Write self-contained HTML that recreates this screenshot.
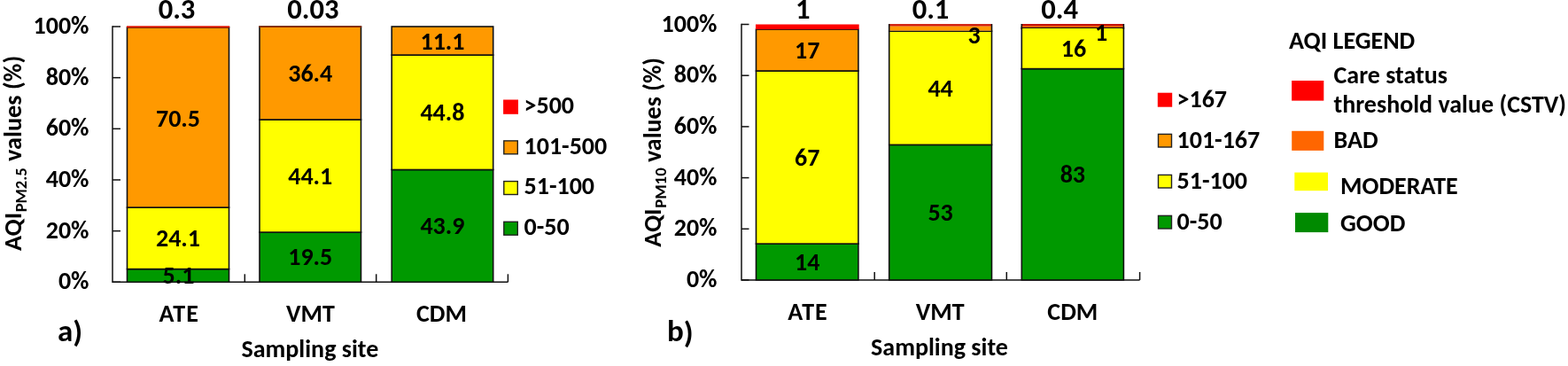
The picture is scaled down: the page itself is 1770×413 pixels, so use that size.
<!DOCTYPE html>
<html><head><meta charset="utf-8"><title>AQI chart</title>
<style>
html,body{margin:0;padding:0;background:#fff;}
body{width:1770px;height:413px;overflow:hidden;}
svg{display:block;}
svg text{font-family:Carlito, 'Liberation Sans', sans-serif;font-weight:bold;fill:#000;}
</style></head><body>
<svg width="1770" height="413" viewBox="0 0 1770 413">
<line x1="127.00" y1="29.30" x2="127.00" y2="319.00" stroke="#111" stroke-width="1.5"/>
<line x1="127.00" y1="30.00" x2="136.00" y2="30.00" stroke="#111" stroke-width="1.5"/>
<line x1="127.00" y1="87.66" x2="136.00" y2="87.66" stroke="#111" stroke-width="1.5"/>
<line x1="127.00" y1="145.32" x2="136.00" y2="145.32" stroke="#111" stroke-width="1.5"/>
<line x1="127.00" y1="202.98" x2="136.00" y2="202.98" stroke="#111" stroke-width="1.5"/>
<line x1="127.00" y1="260.64" x2="136.00" y2="260.64" stroke="#111" stroke-width="1.5"/>
<line x1="127.00" y1="318.30" x2="136.00" y2="318.30" stroke="#111" stroke-width="1.5"/>
<line x1="127.00" y1="318.30" x2="573.40" y2="318.30" stroke="#111" stroke-width="1.5"/>
<line x1="276.30" y1="309.30" x2="276.30" y2="318.30" stroke="#111" stroke-width="1.5"/>
<line x1="424.70" y1="309.30" x2="424.70" y2="318.30" stroke="#111" stroke-width="1.5"/>
<line x1="573.40" y1="309.30" x2="573.40" y2="318.30" stroke="#111" stroke-width="1.5"/>
<text x="100.50" y="38.00" font-size="28" text-anchor="end" textLength="63.00" lengthAdjust="spacingAndGlyphs">100%</text>
<text x="100.50" y="95.66" font-size="28" text-anchor="end" textLength="48.80" lengthAdjust="spacingAndGlyphs">80%</text>
<text x="100.50" y="153.32" font-size="28" text-anchor="end" textLength="48.80" lengthAdjust="spacingAndGlyphs">60%</text>
<text x="100.50" y="210.98" font-size="28" text-anchor="end" textLength="48.80" lengthAdjust="spacingAndGlyphs">40%</text>
<text x="100.50" y="268.64" font-size="28" text-anchor="end" textLength="48.80" lengthAdjust="spacingAndGlyphs">20%</text>
<text x="100.50" y="326.30" font-size="28" text-anchor="end" textLength="34.61" lengthAdjust="spacingAndGlyphs">0%</text>
<rect x="143.50" y="303.60" width="115.00" height="14.70" fill="#009900" stroke="#111" stroke-width="1.6"/>
<rect x="143.50" y="234.12" width="115.00" height="69.48" fill="#ffff00" stroke="#111" stroke-width="1.6"/>
<rect x="143.50" y="30.86" width="115.00" height="203.25" fill="#ff9900" stroke="#111" stroke-width="1.6"/>
<rect x="293.00" y="262.10" width="114.50" height="56.20" fill="#009900" stroke="#111" stroke-width="1.6"/>
<rect x="293.00" y="135.00" width="114.50" height="127.10" fill="#ffff00" stroke="#111" stroke-width="1.6"/>
<rect x="293.00" y="30.09" width="114.50" height="104.91" fill="#ff9900" stroke="#111" stroke-width="1.6"/>
<rect x="442.20" y="191.48" width="114.50" height="126.82" fill="#009900" stroke="#111" stroke-width="1.6"/>
<rect x="442.20" y="62.07" width="114.50" height="129.42" fill="#ffff00" stroke="#111" stroke-width="1.6"/>
<rect x="442.20" y="30.00" width="114.50" height="32.07" fill="#ff9900" stroke="#111" stroke-width="1.6"/>
<rect x="143.00" y="29.30" width="116.20" height="2.00" fill="#dc1200"/>
<rect x="292.40" y="29.40" width="115.80" height="1.50" fill="#9a2a00"/>
<text x="201.00" y="142.80" font-size="28" text-anchor="middle" textLength="50.06" lengthAdjust="spacingAndGlyphs">70.5</text>
<text x="201.00" y="278.10" font-size="28" text-anchor="middle" textLength="50.06" lengthAdjust="spacingAndGlyphs">24.1</text>
<text x="201.50" y="319.90" font-size="28" text-anchor="middle" textLength="35.88" lengthAdjust="spacingAndGlyphs">5.1</text>
<text x="350.25" y="91.65" font-size="28" text-anchor="middle" textLength="50.06" lengthAdjust="spacingAndGlyphs">36.4</text>
<text x="350.25" y="207.65" font-size="28" text-anchor="middle" textLength="50.06" lengthAdjust="spacingAndGlyphs">44.1</text>
<text x="350.25" y="299.20" font-size="28" text-anchor="middle" textLength="50.06" lengthAdjust="spacingAndGlyphs">19.5</text>
<text x="499.50" y="55.70" font-size="28" text-anchor="middle" textLength="50.06" lengthAdjust="spacingAndGlyphs">11.1</text>
<text x="499.45" y="136.10" font-size="28" text-anchor="middle" textLength="50.06" lengthAdjust="spacingAndGlyphs">44.8</text>
<text x="499.45" y="264.05" font-size="28" text-anchor="middle" textLength="50.06" lengthAdjust="spacingAndGlyphs">43.9</text>
<text x="199.50" y="20.50" font-size="32.6" text-anchor="middle" textLength="41.73" lengthAdjust="spacingAndGlyphs">0.3</text>
<text x="353.30" y="20.60" font-size="32.6" text-anchor="middle" textLength="58.25" lengthAdjust="spacingAndGlyphs">0.03</text>
<text x="202.30" y="362.60" font-size="28" text-anchor="middle" letter-spacing="1.1" textLength="45.61" lengthAdjust="spacingAndGlyphs">ATE</text>
<text x="350.40" y="362.80" font-size="28" text-anchor="middle" textLength="54.91" lengthAdjust="spacingAndGlyphs">VMT</text>
<text x="498.40" y="362.80" font-size="28" text-anchor="middle" textLength="56.95" lengthAdjust="spacingAndGlyphs">CDM</text>
<text x="349.90" y="402.80" font-size="28" text-anchor="middle" textLength="154.77" lengthAdjust="spacingAndGlyphs">Sampling site</text>
<text x="65.00" y="384.50" font-size="35" text-anchor="start" textLength="28.19" lengthAdjust="spacingAndGlyphs">a<tspan dy="1.8">)</tspan></text>
<rect x="568.10" y="112.50" width="16.90" height="16.30" fill="#ff0000"/>
<text x="591.50" y="127.80" font-size="28" text-anchor="start" textLength="56.53" lengthAdjust="spacingAndGlyphs">&gt;500</text>
<rect x="568.80" y="158.90" width="15.50" height="14.90" fill="#ff9900" stroke="#222" stroke-width="1.4"/>
<text x="591.50" y="173.50" font-size="28" text-anchor="start" textLength="93.73" lengthAdjust="spacingAndGlyphs">101-500</text>
<rect x="568.80" y="204.60" width="15.50" height="14.90" fill="#ffff00" stroke="#222" stroke-width="1.4"/>
<text x="591.50" y="219.20" font-size="28" text-anchor="start" textLength="79.53" lengthAdjust="spacingAndGlyphs">51-100</text>
<rect x="568.80" y="250.30" width="15.50" height="14.90" fill="#009900" stroke="#222" stroke-width="1.4"/>
<text x="591.50" y="264.90" font-size="28" text-anchor="start" textLength="51.16" lengthAdjust="spacingAndGlyphs">0-50</text>
<text transform="translate(23.6,283) rotate(-90)" font-size="28" textLength="43.27" lengthAdjust="spacingAndGlyphs">AQI</text>
<text transform="translate(30.4,239.3) rotate(-90)" font-size="18.6" textLength="49.97" lengthAdjust="spacingAndGlyphs">PM2.5</text>
<text transform="translate(23.6,182) rotate(-90)" font-size="28.3" textLength="119.28" lengthAdjust="spacingAndGlyphs">values (%)</text>
<line x1="837.00" y1="26.80" x2="837.00" y2="316.70" stroke="#111" stroke-width="1.5"/>
<line x1="837.00" y1="27.50" x2="845.50" y2="27.50" stroke="#111" stroke-width="1.5"/>
<line x1="837.00" y1="85.20" x2="845.50" y2="85.20" stroke="#111" stroke-width="1.5"/>
<line x1="837.00" y1="142.90" x2="845.50" y2="142.90" stroke="#111" stroke-width="1.5"/>
<line x1="837.00" y1="200.60" x2="845.50" y2="200.60" stroke="#111" stroke-width="1.5"/>
<line x1="837.00" y1="258.30" x2="845.50" y2="258.30" stroke="#111" stroke-width="1.5"/>
<line x1="837.00" y1="316.00" x2="845.50" y2="316.00" stroke="#111" stroke-width="1.5"/>
<line x1="837.00" y1="316.00" x2="1286.60" y2="316.00" stroke="#111" stroke-width="1.5"/>
<line x1="987.20" y1="307.00" x2="987.20" y2="316.00" stroke="#111" stroke-width="1.5"/>
<line x1="1136.30" y1="307.00" x2="1136.30" y2="316.00" stroke="#111" stroke-width="1.5"/>
<line x1="1286.60" y1="307.00" x2="1286.60" y2="316.00" stroke="#111" stroke-width="1.5"/>
<text x="809.50" y="35.50" font-size="28" text-anchor="end" textLength="63.00" lengthAdjust="spacingAndGlyphs">100%</text>
<text x="809.50" y="93.20" font-size="28" text-anchor="end" textLength="48.80" lengthAdjust="spacingAndGlyphs">80%</text>
<text x="809.50" y="150.90" font-size="28" text-anchor="end" textLength="48.80" lengthAdjust="spacingAndGlyphs">60%</text>
<text x="809.50" y="208.60" font-size="28" text-anchor="end" textLength="48.80" lengthAdjust="spacingAndGlyphs">40%</text>
<text x="809.50" y="266.30" font-size="28" text-anchor="end" textLength="48.80" lengthAdjust="spacingAndGlyphs">20%</text>
<text x="809.50" y="324.00" font-size="28" text-anchor="end" textLength="34.61" lengthAdjust="spacingAndGlyphs">0%</text>
<rect x="853.50" y="275.10" width="115.40" height="40.90" fill="#009900" stroke="#111" stroke-width="1.6"/>
<rect x="853.50" y="80.00" width="115.40" height="195.10" fill="#ffff00" stroke="#111" stroke-width="1.6"/>
<rect x="853.50" y="33.10" width="115.40" height="46.90" fill="#ff9900" stroke="#111" stroke-width="1.6"/>
<rect x="853.00" y="27.50" width="116.70" height="5.60" fill="#ff0000"/>
<text x="911.20" y="65.55" font-size="28" text-anchor="middle" textLength="28.39" lengthAdjust="spacingAndGlyphs">17</text>
<text x="911.20" y="186.55" font-size="28" text-anchor="middle" textLength="28.39" lengthAdjust="spacingAndGlyphs">67</text>
<text x="911.20" y="304.55" font-size="28" text-anchor="middle" textLength="28.39" lengthAdjust="spacingAndGlyphs">14</text>
<rect x="1003.70" y="163.40" width="115.80" height="152.60" fill="#009900" stroke="#111" stroke-width="1.6"/>
<rect x="1003.70" y="35.20" width="115.80" height="128.20" fill="#ffff00" stroke="#111" stroke-width="1.6"/>
<rect x="1003.70" y="29.40" width="115.80" height="5.20" fill="#ff9900"/>
<rect x="1003.40" y="27.10" width="116.40" height="2.40" fill="#d01a08"/>
<line x1="1003.70" y1="27.10" x2="1003.70" y2="36.00" stroke="#111" stroke-width="1.6"/>
<line x1="1119.50" y1="27.10" x2="1119.50" y2="36.00" stroke="#111" stroke-width="1.6"/>
<text x="1061.60" y="109.00" font-size="28" text-anchor="middle" textLength="28.39" lengthAdjust="spacingAndGlyphs">44</text>
<text x="1061.60" y="248.70" font-size="28" text-anchor="middle" textLength="28.39" lengthAdjust="spacingAndGlyphs">53</text>
<text x="1099.50" y="49.00" font-size="28" text-anchor="middle" textLength="14.20" lengthAdjust="spacingAndGlyphs">3</text>
<rect x="1153.30" y="77.60" width="115.10" height="238.40" fill="#009900" stroke="#111" stroke-width="1.6"/>
<rect x="1153.30" y="31.20" width="115.10" height="46.40" fill="#ffff00" stroke="#111" stroke-width="1.6"/>
<rect x="1153.30" y="29.10" width="115.10" height="1.90" fill="#f05a00"/>
<rect x="1153.00" y="27.00" width="115.70" height="2.10" fill="#c8140a"/>
<line x1="1153.30" y1="27.00" x2="1153.30" y2="33.00" stroke="#111" stroke-width="1.6"/>
<line x1="1268.40" y1="27.00" x2="1268.40" y2="33.00" stroke="#111" stroke-width="1.6"/>
<text x="1212.00" y="64.40" font-size="28" text-anchor="middle" textLength="28.39" lengthAdjust="spacingAndGlyphs">16</text>
<text x="1210.85" y="205.80" font-size="28" text-anchor="middle" textLength="28.39" lengthAdjust="spacingAndGlyphs">83</text>
<text x="1243.00" y="46.30" font-size="28" text-anchor="middle" textLength="14.20" lengthAdjust="spacingAndGlyphs">1</text>
<text x="906.30" y="20.80" font-size="32.6" text-anchor="middle" textLength="16.52" lengthAdjust="spacingAndGlyphs">1</text>
<text x="1050.50" y="20.80" font-size="32.6" text-anchor="middle" textLength="41.73" lengthAdjust="spacingAndGlyphs">0.1</text>
<text x="1196.20" y="20.80" font-size="32.6" text-anchor="middle" textLength="41.73" lengthAdjust="spacingAndGlyphs">0.4</text>
<text x="912.10" y="360.60" font-size="28" text-anchor="middle" letter-spacing="1.1" textLength="45.61" lengthAdjust="spacingAndGlyphs">ATE</text>
<text x="1061.10" y="360.80" font-size="28" text-anchor="middle" textLength="54.91" lengthAdjust="spacingAndGlyphs">VMT</text>
<text x="1210.80" y="360.80" font-size="28" text-anchor="middle" textLength="56.95" lengthAdjust="spacingAndGlyphs">CDM</text>
<text x="1060.50" y="400.50" font-size="28" text-anchor="middle" textLength="154.77" lengthAdjust="spacingAndGlyphs">Sampling site</text>
<text x="753.00" y="385.10" font-size="35" text-anchor="start" textLength="29.70" lengthAdjust="spacingAndGlyphs">b<tspan dy="1.8">)</tspan></text>
<rect x="1306.80" y="104.70" width="16.40" height="16.00" fill="#ff0000"/>
<text x="1328.50" y="120.50" font-size="28" text-anchor="start" textLength="56.53" lengthAdjust="spacingAndGlyphs">&gt;167</text>
<rect x="1307.50" y="151.40" width="15.00" height="14.60" fill="#ff9900" stroke="#222" stroke-width="1.4"/>
<text x="1328.50" y="166.50" font-size="28" text-anchor="start" textLength="93.73" lengthAdjust="spacingAndGlyphs">101-167</text>
<rect x="1307.50" y="197.40" width="15.00" height="14.60" fill="#ffff00" stroke="#222" stroke-width="1.4"/>
<text x="1328.50" y="212.50" font-size="28" text-anchor="start" textLength="79.53" lengthAdjust="spacingAndGlyphs">51-100</text>
<rect x="1307.50" y="243.40" width="15.00" height="14.60" fill="#009900" stroke="#222" stroke-width="1.4"/>
<text x="1328.50" y="258.50" font-size="28" text-anchor="start" textLength="51.16" lengthAdjust="spacingAndGlyphs">0-50</text>
<text transform="translate(745.9,278.7) rotate(-90)" font-size="28" textLength="43.27" lengthAdjust="spacingAndGlyphs">AQI</text>
<text transform="translate(752.2,234.8) rotate(-90)" font-size="18.8" textLength="45.45" lengthAdjust="spacingAndGlyphs">PM10</text>
<text transform="translate(745.9,183) rotate(-90)" font-size="28" textLength="118.02" lengthAdjust="spacingAndGlyphs">values (%)</text>
<text x="1455.00" y="55.40" font-size="28" text-anchor="start" textLength="142.28" lengthAdjust="spacingAndGlyphs">AQI LEGEND</text>
<rect x="1458.10" y="91.00" width="36.20" height="22.60" fill="#ff0000"/>
<text x="1505.50" y="93.70" font-size="28" text-anchor="start" textLength="128.47" lengthAdjust="spacingAndGlyphs">Care status</text>
<text x="1505.50" y="127.20" font-size="28" text-anchor="start" textLength="262.59" lengthAdjust="spacingAndGlyphs">threshold value (CSTV)</text>
<rect x="1458.20" y="147.80" width="36.10" height="22.10" fill="#ff6600"/>
<text x="1505.50" y="167.20" font-size="28" text-anchor="start" textLength="50.05" lengthAdjust="spacingAndGlyphs">BAD</text>
<rect x="1461.30" y="194.60" width="37.70" height="20.60" fill="#ffff00"/>
<text x="1513.00" y="219.10" font-size="28" text-anchor="start" textLength="132.78" lengthAdjust="spacingAndGlyphs">MODERATE</text>
<rect x="1462.00" y="240.10" width="37.30" height="22.00" fill="#008a00"/>
<text x="1513.00" y="261.10" font-size="28" text-anchor="start" textLength="73.38" lengthAdjust="spacingAndGlyphs">GOOD</text>
</svg>
</body></html>
